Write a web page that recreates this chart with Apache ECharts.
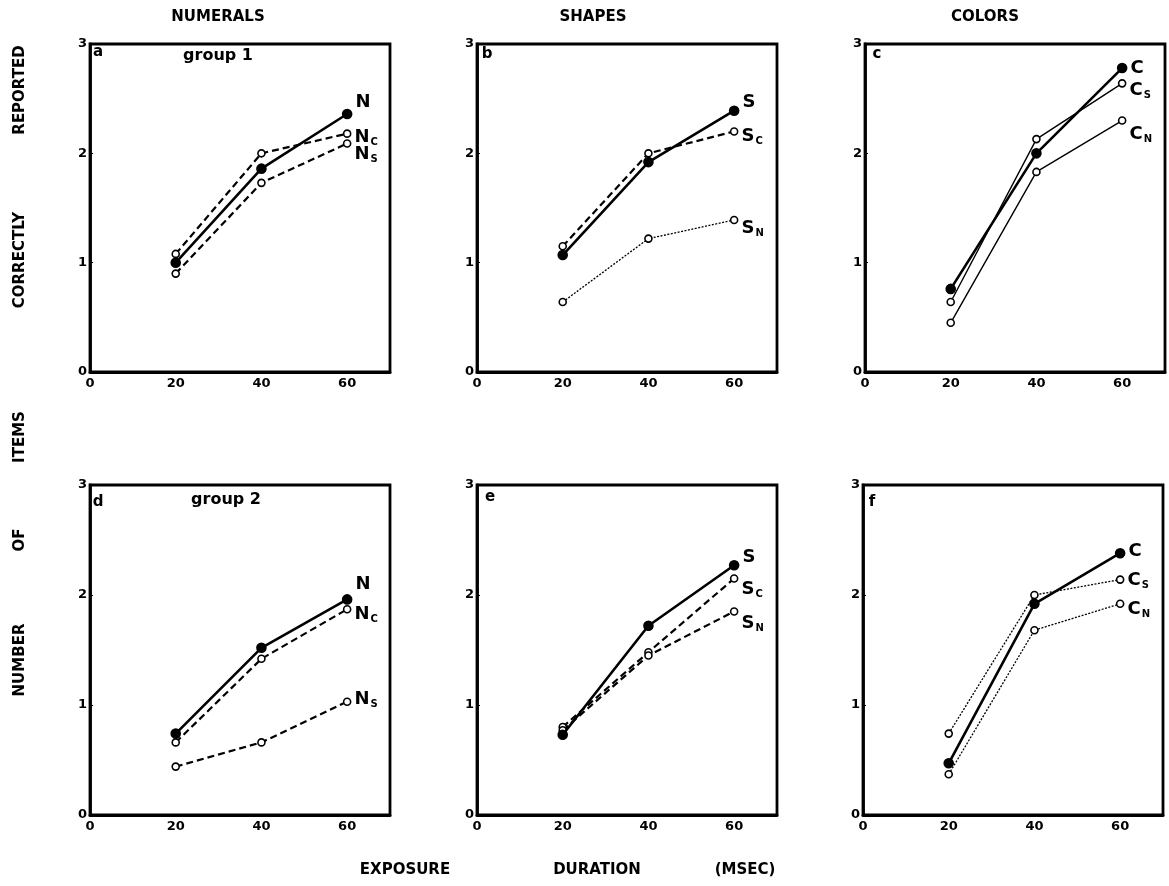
<!DOCTYPE html>
<html>
<head>
<meta charset="utf-8">
<script src="https://cdn.jsdelivr.net/npm/echarts@6/dist/echarts.min.js"></script>
<style>
html,body{margin:0;padding:0;background:#fff;}
#chart{width:1169px;height:886px;}
</style>
</head>
<body>
<div id="chart"></div>
<script>
// ---- data ----
const xValues = [20, 40, 60];
const xTicks = [0, 20, 40, 60];
const yTicks = [0, 1, 2, 3];
const columnTitles = ['NUMERALS', 'SHAPES', 'COLORS'];
const panelLetters = ['a', 'b', 'c', 'd', 'e', 'f'];
const groupLabels = ['group 1', 'group 2'];
const yTitleWords = ['NUMBER', 'OF', 'ITEMS', 'CORRECTLY', 'REPORTED'];
const xTitleWords = ['EXPOSURE', 'DURATION', '(MSEC)'];

// panel a (numerals, group 1)
const aN  = [1.00, 1.86, 2.36];
const aNc = [1.08, 2.00, 2.18];
const aNs = [0.90, 1.73, 2.09];
// panel b (shapes, group 1)
const bS  = [1.07, 1.92, 2.39];
const bSc = [1.15, 2.00, 2.20];
const bSn = [0.64, 1.22, 1.39];
// panel c (colors, group 1)
const cC  = [0.76, 2.00, 2.78];
const cCs = [0.64, 2.13, 2.64];
const cCn = [0.45, 1.83, 2.30];
// panel d (numerals, group 2)
const dN  = [0.74, 1.52, 1.96];
const dNc = [0.66, 1.42, 1.87];
const dNs = [0.44, 0.66, 1.03];
// panel e (shapes, group 2)
const eS  = [0.73, 1.72, 2.27];
const eSc = [0.80, 1.48, 2.15];
const eSn = [0.77, 1.45, 1.85];
// panel f (colors, group 2)
const fC  = [0.47, 1.92, 2.38];
const fCs = [0.74, 2.00, 2.14];
const fCn = [0.37, 1.68, 1.92];

// ---- layout / style ----
const FONT = 'DejaVu Sans';
const grids = [
  {left: 90,  top: 44,  width: 300, height: 328},
  {left: 477, top: 44,  width: 300, height: 328},
  {left: 865, top: 44,  width: 300, height: 328},
  {left: 90,  top: 485, width: 300, height: 330},
  {left: 477, top: 485, width: 300, height: 330},
  {left: 863, top: 485, width: 300, height: 330}
];

const STY = {
  main:   {type: 'solid', width: 2.6, filled: true},
  dashed: {type: [7, 4], width: 2.2, filled: false},
  thin:   {type: 'solid', width: 1.4, filled: false},
  dotted: {type: [2, 1.5], width: 1.3, filled: false}
};

// [panel, values, style, main letter, subscript, label offset y]
const seriesDefs = [
  [0, aN,  'main',   'N', '',  -12],
  [0, aNc, 'dashed', 'N', 'C', 4],
  [0, aNs, 'dashed', 'N', 'S', 11],
  [1, bS,  'main',   'S', '',  -8],
  [1, bSc, 'dashed', 'S', 'C', 5],
  [1, bSn, 'dotted', 'S', 'N', 8],
  [2, cC,  'main',   'C', '',  0],
  [2, cCs, 'thin',   'C', 'S', 7],
  [2, cCn, 'thin',   'C', 'N', 14],
  [3, dN,  'main',   'N', '',  -15],
  [3, dNc, 'dashed', 'N', 'C', 5],
  [3, dNs, 'dashed', 'N', 'S', -2],
  [4, eS,  'main',   'S', '',  -8],
  [4, eSc, 'dashed', 'S', 'C', 11],
  [4, eSn, 'dashed', 'S', 'N', 12],
  [5, fC,  'main',   'C', '',  -2],
  [5, fCs, 'dotted', 'C', 'S', 1],
  [5, fCn, 'dotted', 'C', 'N', 6]
];

const xAxes = grids.map((g, i) => ({
  type: 'value', gridIndex: i, min: 0, max: 70, interval: 20,
  axisLine: {show: true, onZero: false, lineStyle: {color: '#000', width: 2.8}},
  axisTick: {show: false},
  splitLine: {show: false},
  axisLabel: {
    color: '#000', fontFamily: FONT, fontWeight: 'bold', fontSize: 13, margin: 5,
    formatter: v => (xTicks.includes(v) ? String(v) : '')
  }
}));
const yAxes = grids.map((g, i) => ({
  type: 'value', gridIndex: i, min: 0, max: 3, interval: 1,
  axisLine: {show: true, onZero: false, lineStyle: {color: '#000', width: 2.8}},
  axisTick: {show: true, inside: true, length: 3, lineStyle: {color: '#000', width: 1}},
  splitLine: {show: false},
  axisLabel: {
    color: '#000', fontFamily: FONT, fontWeight: 'bold', fontSize: 13, margin: 3,
    formatter: v => (yTicks.includes(v) ? String(v) : '')
  }
}));

const series = seriesDefs.map(([p, vals, st, m, sub, dy]) => {
  const s = STY[st];
  const data = vals.map((v, k) => [xValues[k], v]);
  const last = data.length - 1;
  return {
    type: 'line', xAxisIndex: p, yAxisIndex: p,
    z: s.filled ? 5 : 3,
    symbol: 'circle',
    symbolSize: s.filled ? 9 : 7,
    itemStyle: {color: s.filled ? '#000' : '#fff', borderColor: '#000', borderWidth: 1.6},
    lineStyle: {color: '#000', width: s.width, type: s.type},
    animation: false,
    data: data.map((d, k) => k === last ? {
      value: d,
      label: {
        show: true, position: 'right', distance: 3, offset: [0, dy],
        formatter: sub ? '{m|' + m + '}{s|' + sub + '}' : '{m|' + m + '}',
        rich: {
          m: {fontFamily: FONT, fontWeight: 'bold', fontSize: 18, color: '#000', lineHeight: 20},
          s: {fontFamily: FONT, fontWeight: 'bold', fontSize: 10, color: '#000', lineHeight: 20, verticalAlign: 'bottom', padding: [8, 0, 0, 1]}
        }
      }
    } : {value: d})
  };
});

const graphic = [];
const colCenters = [218, 593, 985];
columnTitles.forEach((t, i) => graphic.push({
  type: 'text', x: colCenters[i], y: 17,
  style: {text: t, fontFamily: FONT, fontWeight: 'bold', fontSize: 15, fill: '#000', align: 'center', verticalAlign: 'middle'}
}));
const letterPos = [[98, 52], [487, 54], [877, 54], [98, 502], [490, 497], [872, 502]];
panelLetters.forEach((t, i) => graphic.push({
  type: 'text', x: letterPos[i][0], y: letterPos[i][1],
  style: {text: t, fontFamily: FONT, fontWeight: 'bold', fontSize: 15, fill: '#000', align: 'center', verticalAlign: 'middle'}
}));
const groupPos = [[218, 56], [226, 500]];
groupLabels.forEach((t, i) => graphic.push({
  type: 'text', x: groupPos[i][0], y: groupPos[i][1],
  style: {text: t, fontFamily: FONT, fontWeight: 'bold', fontSize: 16, fill: '#000', align: 'center', verticalAlign: 'middle'}
}));
const yWordY = [660, 540, 437, 260, 90];
yTitleWords.forEach((t, i) => graphic.push({
  type: 'text', x: 20, y: yWordY[i], rotation: Math.PI / 2,
  style: {text: t, fontFamily: FONT, fontWeight: 'bold', fontSize: 15, fill: '#000', align: 'center', verticalAlign: 'middle'}
}));
const xWordX = [405, 597, 745];
xTitleWords.forEach((t, i) => graphic.push({
  type: 'text', x: xWordX[i], y: 870,
  style: {text: t, fontFamily: FONT, fontWeight: 'bold', fontSize: 15, fill: '#000', align: 'center', verticalAlign: 'middle'}
}));

const chart = echarts.init(document.getElementById('chart'), null, {renderer: 'canvas'});
chart.setOption({
  backgroundColor: '#fff',
  animation: false,
  grid: grids.map(g => Object.assign({show: true, borderColor: '#000', borderWidth: 2.8, backgroundColor: 'transparent'}, g)),
  xAxis: xAxes,
  yAxis: yAxes,
  series: series,
  graphic: graphic
});
</script>
</body>
</html>
